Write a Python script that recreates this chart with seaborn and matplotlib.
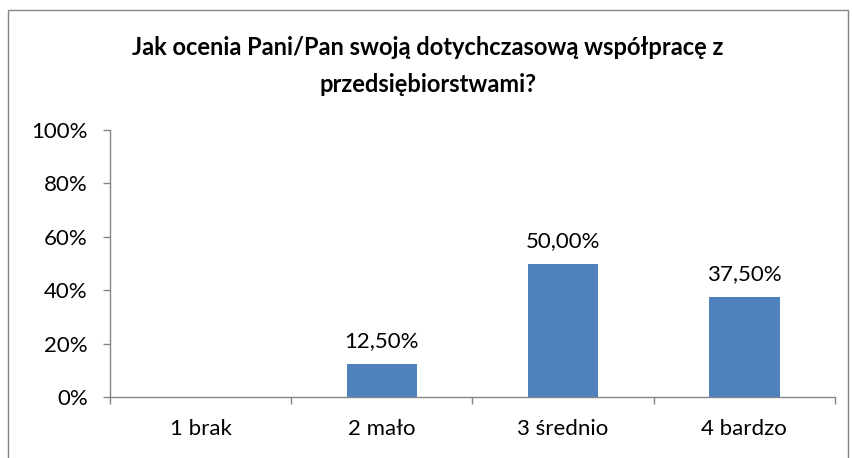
import matplotlib
matplotlib.use("Agg")
import matplotlib.pyplot as plt
import seaborn as sns
import pandas as pd
import numpy as np
from matplotlib.patches import Rectangle

categories = ["1 brak", "2 mało", "3 średnio", "4 bardzo"]
values = [0.0, 0.125, 0.50, 0.375]
yticks = [0, 0.2, 0.4, 0.6, 0.8, 1.0]
ytick_labels = ["0%", "20%", "40%", "60%", "80%", "100%"]
title = "Jak ocenia Pani/Pan swoją dotychczasową współpracę z\nprzedsiębiorstwami?"

sns.set_theme(style="white")
plt.rcParams["font.family"] = ["Lato", "DejaVu Sans"]

W, H = 853, 458
fig = plt.figure(figsize=(W / 100, H / 100), dpi=100)
ax = fig.add_axes([110 / W, 1 - 397 / H, (835 - 110) / W, (397 - 130) / H])

df = pd.DataFrame({"cat": categories, "val": values})
sns.barplot(data=df, x="cat", y="val", ax=ax, color="#4F81BD", saturation=1,
            width=0.39, edgecolor="none")

fs = 16
ax.set_ylim(0, 1)
ax.set_xlim(-0.5, len(categories) - 0.5)
ax.set_yticks(yticks)
ax.set_yticklabels(ytick_labels, fontsize=fs, color="#000000")
ax.set_xticks(np.arange(-0.5, len(categories)), labels=[""] * (len(categories) + 1))
ax.set_xticks(np.arange(len(categories)), labels=categories, minor=True)
ax.tick_params(axis="x", which="major", length=5, width=1, color="#868686", direction="out", bottom=True)
ax.tick_params(axis="x", which="minor", length=0, pad=16, labelsize=fs, labelcolor="#000000")
ax.tick_params(axis="y", length=5, width=1, color="#868686", direction="out", left=True, pad=11)
ax.set_xlabel("")
ax.set_ylabel("")
for s in ["top", "right"]:
    ax.spines[s].set_visible(False)
for s in ["left", "bottom"]:
    ax.spines[s].set_color("#868686")
    ax.spines[s].set_linewidth(1)

for i, v in enumerate(values):
    if v > 0:
        ax.annotate(f"{v*100:.2f}%".replace(".", ","), (i, v), xytext=(0, 9),
                    textcoords="offset points", ha="center", va="bottom",
                    fontsize=fs, color="#000000")

fig.text(0.5 * (8 + 848) / W, 1 - 66 / H, title, ha="center", va="center",
         fontsize=17, fontweight="bold", linespacing=1.75, color="#000000")

fig.patches.append(Rectangle((8 / W, -0.05), (848 - 8) / W, 1.05 - 10 / H,
                             transform=fig.transFigure, fill=False,
                             edgecolor="#868686", linewidth=1))

fig.savefig("out.png", dpi=100)
